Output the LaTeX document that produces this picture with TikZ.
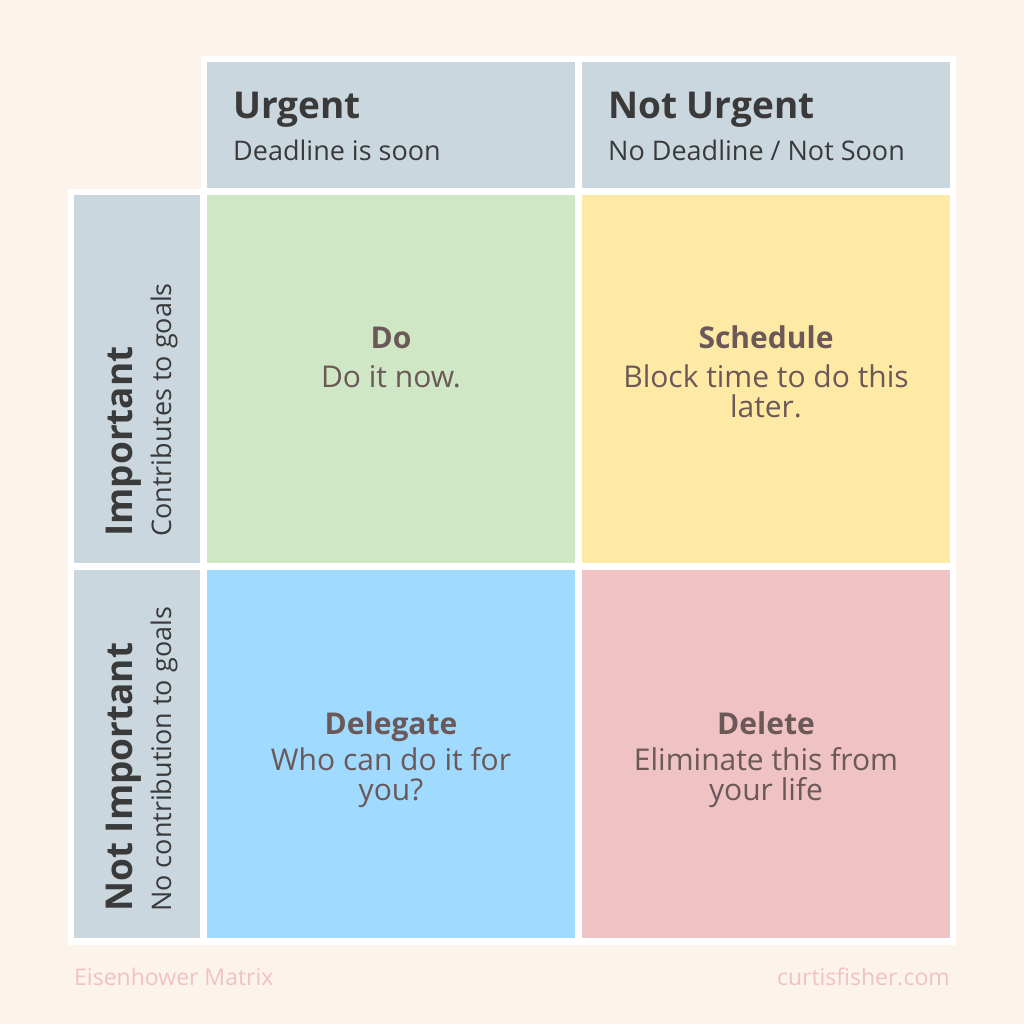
\documentclass[tikz,border=0pt]{standalone}
\usepackage{fontspec}
\setmainfont{Open Sans}
\usetikzlibrary{positioning, calc}
\definecolor{bgcream}{HTML}{FCF3EA}
\definecolor{headblue}{HTML}{CBD7DF}
\definecolor{dogreen}{HTML}{CFE7C4}
\definecolor{schedyellow}{HTML}{FFEAA5}
\definecolor{delblue}{HTML}{A0DAFE}
\definecolor{delpink}{HTML}{EFC2C3}
\definecolor{headtext}{HTML}{3A3A3A}
\definecolor{quadtext}{HTML}{6B5859}
\definecolor{footpink}{HTML}{F0C2C5}
\tikzset{
x=1pt, y=-1pt, % one unit is one pixel of the reference, y runs down
node distance=7pt, % the white gap between two cells
quad/.style={minimum width=368pt, minimum height=368pt, inner sep=0pt, outer sep=0pt}, % the four quadrants
toplabel/.style={quad, fill=headblue, minimum height=126pt}, % the column heads
sidelabel/.style={quad, fill=headblue, minimum width=126pt}, % the row heads
headtitle/.style={inner sep=0pt, text=headtext, font=\fontsize{37}{40}\selectfont\bfseries}, % Urgent, Important ...
headsub/.style={inner sep=0pt, text=headtext, font=\fontsize{27}{30}\selectfont}, % the line under it
quadtitle/.style={inner sep=0pt, text=quadtext, font=\fontsize{30}{30}\selectfont\bfseries}, % Do, Schedule ...
quadbody/.style={inner sep=0pt, text=quadtext, align=center, font=\fontsize{30}{30}\selectfont}, % the advice
foot/.style={inner sep=0pt, text=footpink, font=\fontsize{23}{26}\selectfont}, % the two footer texts
}

\begin{document}
\begin{tikzpicture}
    \fill[bgcream] (0,0) rectangle (1024,1024);
    \useasboundingbox (0,0) rectangle (1024,1024);
    \fill[white] (201,56) -- (956,56) -- (956,945) -- (68,945) -- (68,189) -- (201,189) -- cycle;
    % quadrants
    \node[quad, fill=dogreen, anchor=north west] (do) at (207,195) {};
    \node[quad, fill=schedyellow, right=of do] (schedule) {};
    \node[quad, fill=delblue, below=of do] (delegate) {};
    \node[quad, fill=delpink, below=of schedule] (delete) {};
    % heads
    \node[toplabel, above=of do] (urgent) {};
    \node[toplabel, above=of schedule] (noturgent) {};
    \node[sidelabel, left=of do] (important) {};
    \node[sidelabel, left=of delegate] (notimportant) {};
    % head texts
    \node[headtitle, anchor=base west] (urgentT) at ([xshift=26pt,yshift=-57pt]urgent.north west) {Urgent};
    \node[headsub, anchor=base west] (urgentS) at ([xshift=26pt,yshift=-99pt]urgent.north west) {Deadline is soon};
    \node[headtitle, anchor=base west] (noturgentT) at ([xshift=26pt,yshift=-57pt]noturgent.north west) {Not Urgent};
    \node[headsub, anchor=base west] (noturgentS) at ([xshift=26pt,yshift=-99pt]noturgent.north west) {No Deadline / Not Soon};
    \node[headtitle, rotate=90, anchor=base west] (importantT) at ([xshift=58pt,yshift=26pt]important.south west) {Important};
    \node[headsub, rotate=90, anchor=base west] (importantS) at ([xshift=97pt,yshift=26pt]important.south west) {Contributes to goals};
    \node[headtitle, rotate=90, anchor=base west] (notimportantT) at ([xshift=58pt,yshift=26pt]notimportant.south west) {Not Important};
    \node[headsub, rotate=90, anchor=base west] (notimportantS) at ([xshift=97pt,yshift=26pt]notimportant.south west) {No contribution to goals};
    % quadrant texts (base of a two-line text is its last line)
    \node[quadtitle, anchor=base] (doT) at ([yshift=-153pt]do.north) {Do};
    \node[quadbody, anchor=base] (doB) at ([yshift=-192pt]do.north) {Do it now.};
    \node[quadtitle, anchor=base] (scheduleT) at ([yshift=-153pt]schedule.north) {Schedule};
    \node[quadbody, anchor=base] (scheduleB) at ([yshift=-222pt]schedule.north) {Block time to do this\\later.};
    \node[quadtitle, anchor=base] (delegateT) at ([yshift=-164pt]delegate.north) {Delegate};
    \node[quadbody, anchor=base] (delegateB) at ([yshift=-230pt]delegate.north) {Who can do it for\\you?};
    \node[quadtitle, anchor=base] (deleteT) at ([yshift=-164pt]delete.north) {Delete};
    \node[quadbody, anchor=base] (deleteB) at ([yshift=-230pt]delete.north) {Eliminate this from\\your life};
    % footer
    \node[foot, anchor=base west] (title) at (74,985) {Eisenhower Matrix};
    \node[foot, anchor=base east] (site) at (950,985) {curtisfisher.com};
\end{tikzpicture}
\end{document}
